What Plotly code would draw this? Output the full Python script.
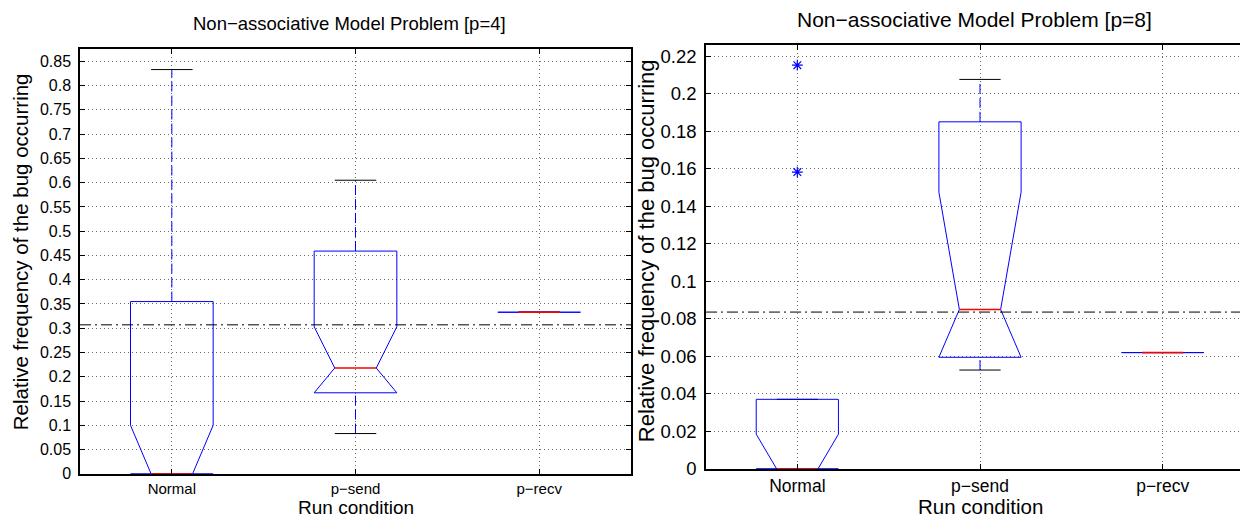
import plotly.graph_objects as go

# ---------------- data ----------------
categories = ["Normal", "p\u2212send", "p\u2212recv"]

p4_q1 = [0.0, 0.167, 0.333]
p4_med = [0.0, 0.218, 0.333]
p4_q3 = [0.355, 0.459, 0.333]
p4_notch_lo = [0.0, 0.167, 0.333]
p4_notch_hi = [0.100, 0.303, 0.333]
p4_whisker_lo = [0.0, 0.083, 0.333]
p4_whisker_hi = [0.833, 0.605, 0.333]
p4_outliers = [[], [], []]
p4_ref = 0.307
p4_ymax = 0.875

p8_q1 = [0.0, 0.0595, 0.0620]
p8_med = [0.0, 0.0850, 0.0620]
p8_q3 = [0.0371, 0.1850, 0.0620]
p8_notch_lo = [0.0, 0.0595, 0.0620]
p8_notch_hi = [0.0185, 0.1475, 0.0620]
p8_whisker_lo = [0.0, 0.0527, 0.0620]
p8_whisker_hi = [0.0371, 0.2076, 0.0620]
p8_outliers = [[0.2152, 0.1582], [], []]
p8_ref = 0.0836
p8_ymax = 0.2258

p4_yticks = [0, 0.05, 0.1, 0.15, 0.2, 0.25, 0.3, 0.35, 0.4, 0.45, 0.5, 0.55,
             0.6, 0.65, 0.7, 0.75, 0.8, 0.85]
p4_yticklabels = ["0", "0.05", "0.1", "0.15", "0.2", "0.25", "0.3", "0.35", "0.4",
                  "0.45", "0.5", "0.55", "0.6", "0.65", "0.7", "0.75", "0.8", "0.85"]
p8_yticks = [0, 0.02, 0.04, 0.06, 0.08, 0.1, 0.12, 0.14, 0.16, 0.18, 0.2, 0.22]
p8_yticklabels = ["0", "0.02", "0.04", "0.06", "0.08", "0.1", "0.12", "0.14",
                  "0.16", "0.18", "0.2", "0.22"]

title_p4 = "Non\u2212associative Model Problem [p=4]"
title_p8 = "Non\u2212associative Model Problem [p=8]"
xlabel = "Run condition"
ylabel = "Relative frequency of the bug occurring"

# ---------------- style ----------------
BLUE = "#0000ff"
RED = "#ff0000"
FONT = "Liberation Sans, Arial, Helvetica, sans-serif"
BOX_HW = 0.225   # box half width (x units)
NOTCH_HW = 0.113  # notch / cap half width
GRID = "#6a6a6a"
GRIDDASH = "1px,3px"

fig = go.Figure()


def add_boxes(xa, ya, q1, med, q3, nlo, nhi, wlo, whi, outl):
    for i in range(len(categories)):
        x = i + 1
        # whiskers (dashed blue)
        if whi[i] > q3[i]:
            fig.add_trace(go.Scatter(x=[x, x], y=[q3[i], whi[i]], mode="lines",
                                     line=dict(color=BLUE, width=1, dash="10px,4px"),
                                     xaxis=xa, yaxis=ya, hoverinfo="skip"))
        if wlo[i] < q1[i]:
            fig.add_trace(go.Scatter(x=[x, x], y=[wlo[i], q1[i]], mode="lines",
                                     line=dict(color=BLUE, width=1, dash="10px,4px"),
                                     xaxis=xa, yaxis=ya, hoverinfo="skip"))
        # caps (black)
        for v in (whi[i], wlo[i]):
            fig.add_trace(go.Scatter(x=[x - NOTCH_HW, x + NOTCH_HW], y=[v, v], mode="lines",
                                     line=dict(color="black", width=1),
                                     xaxis=xa, yaxis=ya, hoverinfo="skip"))
        # notched box outline (blue)
        bx = [x - BOX_HW, x + BOX_HW, x + BOX_HW, x + NOTCH_HW, x + BOX_HW, x + BOX_HW,
              x - BOX_HW, x - BOX_HW, x - NOTCH_HW, x - BOX_HW, x - BOX_HW]
        by = [q3[i], q3[i], nhi[i], med[i], nlo[i], q1[i],
              q1[i], nlo[i], med[i], nhi[i], q3[i]]
        fig.add_trace(go.Scatter(x=bx, y=by, mode="lines",
                                 line=dict(color=BLUE, width=1),
                                 xaxis=xa, yaxis=ya, hoverinfo="skip"))
        # median (red)
        fig.add_trace(go.Scatter(x=[x - NOTCH_HW, x + NOTCH_HW], y=[med[i], med[i]],
                                 mode="lines", line=dict(color=RED, width=1.5),
                                 xaxis=xa, yaxis=ya, hoverinfo="skip"))
        # outliers
        if outl[i]:
            fig.add_trace(go.Scatter(x=[x] * len(outl[i]), y=outl[i], mode="markers",
                                     marker=dict(symbol="asterisk-open", size=9, color=BLUE,
                                                 line=dict(color=BLUE, width=1.2)),
                                     xaxis=xa, yaxis=ya, hoverinfo="skip"))


add_boxes("x", "y", p4_q1, p4_med, p4_q3, p4_notch_lo, p4_notch_hi,
          p4_whisker_lo, p4_whisker_hi, p4_outliers)
add_boxes("x2", "y2", p8_q1, p8_med, p8_q3, p8_notch_lo, p8_notch_hi,
          p8_whisker_lo, p8_whisker_hi, p8_outliers)

W, H = 1248, 518


def xax(domain, size):
    return dict(domain=domain, range=[0.5, 3.5], tickvals=[1, 2, 3], ticktext=categories,
                showgrid=True, gridcolor=GRID, griddash=GRIDDASH, gridwidth=1,
                zeroline=False, showline=True, linecolor="black", linewidth=1.5,
                mirror="ticks", ticks="inside", ticklen=5, tickcolor="black",
                tickfont=dict(family=FONT, size=size, color="black"))


def yax(domain, rng, tv, tt, size, anchor):
    return dict(domain=domain, range=rng, tickvals=tv, ticktext=tt, anchor=anchor,
                showgrid=True, gridcolor=GRID, griddash=GRIDDASH, gridwidth=1,
                zeroline=False, showline=True, linecolor="black", linewidth=1.5,
                mirror="ticks", ticks="inside", ticklen=5, tickcolor="black",
                ticklabelstandoff=4,
                tickfont=dict(family=FONT, size=size, color="black"))


left_px = (72, 623, 42, 475)
right_px = (698, 1246, 38, 470)


def dom(px):
    x0, x1, yt, yb = px
    return [x0 / W, x1 / W], [(H - yb) / H, (H - yt) / H]


lx, ly = dom(left_px)
rx, ry = dom(right_px)

fig.update_layout(
    width=W, height=H,
    margin=dict(l=0, r=0, t=0, b=0),
    paper_bgcolor="white", plot_bgcolor="white",
    showlegend=False,
    xaxis=dict(**xax(lx, 15), anchor="y"),
    yaxis=yax(ly, [0, p4_ymax], p4_yticks, p4_yticklabels, 16, "x"),
    xaxis2=dict(**xax(rx, 17.5), anchor="y2"),
    yaxis2=yax(ry, [0, p8_ymax], p8_yticks, p8_yticklabels, 18.5, "x2"),
)

# reference dash-dot lines
fig.add_shape(type="line", xref="x domain", yref="y", x0=0, x1=1, y0=p4_ref, y1=p4_ref,
              line=dict(color="black", width=1, dash="11px,4px,2px,4px"))
fig.add_shape(type="line", xref="x2 domain", yref="y2", x0=0, x1=1, y0=p8_ref, y1=p8_ref,
              line=dict(color="black", width=1, dash="11px,4px,2px,4px"))


def ann(text, xpx, ypx, size, angle=0):
    fig.add_annotation(text=text, x=xpx / W, y=(H - ypx) / H, xref="paper", yref="paper",
                       showarrow=False, textangle=angle, xanchor="center", yanchor="middle",
                       font=dict(family=FONT, size=size, color="black"))


ann(title_p4, (left_px[0] + left_px[1]) / 2 - 6, 16, 18.5)
ann(title_p8, (right_px[0] + right_px[1]) / 2 - 6, 12, 21)
ann(xlabel, (left_px[0] + left_px[1]) / 2, 509, 19)
ann(xlabel, (right_px[0] + right_px[1]) / 2, 508.5, 20.5)
ann(ylabel, 12, 249, 20.5, -90)
ann(ylabel, 638, 248, 22, -90)

fig.write_html("out.html")
